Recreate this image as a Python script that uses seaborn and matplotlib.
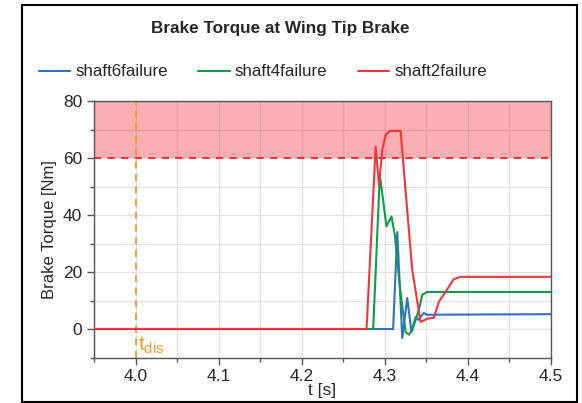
import matplotlib
matplotlib.use("Agg")
import matplotlib.pyplot as plt
import matplotlib.patches as mpatches
from matplotlib.ticker import MultipleLocator
import pandas as pd
import seaborn as sns

# time [s] and brake torque [Nm]
t_shaft6 = [3.95, 4.310, 4.315, 4.321, 4.327, 4.332, 4.337, 4.340, 4.347, 4.351, 4.5]
y_shaft6 = [0, 0, 34, -3.2, 10.9, -1.0, 4.2, 3.2, 5.6, 5.0, 5.2]

t_shaft4 = [3.95, 4.286, 4.294, 4.302, 4.308, 4.312, 4.318, 4.325, 4.329, 4.333, 4.341, 4.345, 4.351, 4.5]
y_shaft4 = [0, 0, 54, 36, 39.5, 33, 15, -1.1, -2.0, -0.4, 6.7, 12, 13, 13]

t_shaft2 = [3.95, 4.278, 4.289, 4.293, 4.297, 4.301, 4.306, 4.319, 4.326, 4.333, 4.343,
            4.352, 4.359, 4.365, 4.373, 4.383, 4.391, 4.5]
y_shaft2 = [0, 0, 64, 50.5, 63, 68, 69.5, 69.5, 45, 20.7, 2.5,
            3.7, 3.9, 9.5, 13, 17.5, 18.3, 18.3]

series = ["shaft6failure", "shaft4failure", "shaft2failure"]
colors = ["#2f6fd0", "#119a4a", "#f0353d"]
t_dis = 4.0
limit = 60
y_max = 80

df = pd.concat([
    pd.DataFrame({"t": t_shaft6, "torque": y_shaft6, "case": series[0]}),
    pd.DataFrame({"t": t_shaft4, "torque": y_shaft4, "case": series[1]}),
    pd.DataFrame({"t": t_shaft2, "torque": y_shaft2, "case": series[2]}),
])

sns.set_style("white")
plt.rcParams["font.family"] = ["Liberation Sans", "DejaVu Sans"]

fig = plt.figure(figsize=(5.82, 4.03), dpi=100)
ax = fig.add_axes([94 / 582, 1 - 357.5 / 403, 457 / 582, 256.5 / 403])

ax.axhspan(limit, y_max, color="#f0353d", alpha=0.4, lw=0, zorder=1)
ax.axhline(limit, color="#f0353d", ls=(0, (3.5, 3)), lw=1.5, zorder=2)
ax.axvline(t_dis, color="#f59a23", ls=(0, (4, 3)), lw=1.3, zorder=2)

sns.lineplot(data=df, x="t", y="torque", hue="case", hue_order=series,
             palette=colors, lw=1.5, ax=ax, sort=False, estimator=None, zorder=3)

ax.set_xlim(3.95, 4.5)
ax.set_ylim(-10, y_max)
ax.xaxis.set_major_locator(MultipleLocator(0.1))
ax.xaxis.set_minor_locator(MultipleLocator(0.05))
ax.yaxis.set_major_locator(MultipleLocator(20))
ax.yaxis.set_minor_locator(MultipleLocator(10))
ax.grid(which="both", color="#e3e3e3", lw=1.0, zorder=0)
ax.set_axisbelow(True)
for s in ax.spines.values():
    s.set_color("#555555")
    s.set_linewidth(1.0)
ax.tick_params(which="major", direction="out", length=5, width=1, color="#555555",
               labelsize=12.5, bottom=True, left=True)
ax.tick_params(which="minor", direction="out", length=3, width=1, color="#555555",
               bottom=True, left=True)
ax.set_xticklabels([f"{v:.1f}" for v in ax.get_xticks()])
ax.set_xlabel("t [s]", fontsize=12.5, labelpad=-1)
ax.set_ylabel("Brake Torque [Nm]", fontsize=12, labelpad=4)

ax.text(t_dis + 0.003, -9.6, r"$\mathregular{t_{dis}}$", color="#f59a23", fontsize=15,
        va="bottom", ha="left")

handles, labels = ax.get_legend_handles_labels()
ax.legend_.remove()
fig.legend(handles, labels, loc="center", bbox_to_anchor=(263 / 582, 1 - 72 / 403),
           ncol=3, frameon=False, fontsize=12.2, handlelength=1.85, handletextpad=0.3,
           columnspacing=1.8)

fig.text(280 / 582, 1 - 28 / 403, "Brake Torque at Wing Tip Brake", ha="center",
         va="center", fontsize=12.3, fontweight="bold")

fig.patches.append(mpatches.Rectangle((22 / 582, 1.5 / 403), 555 / 582, 397 / 403,
                                      transform=fig.transFigure, fill=False,
                                      edgecolor="black", lw=1.5))

fig.savefig("out.png", dpi=100)
